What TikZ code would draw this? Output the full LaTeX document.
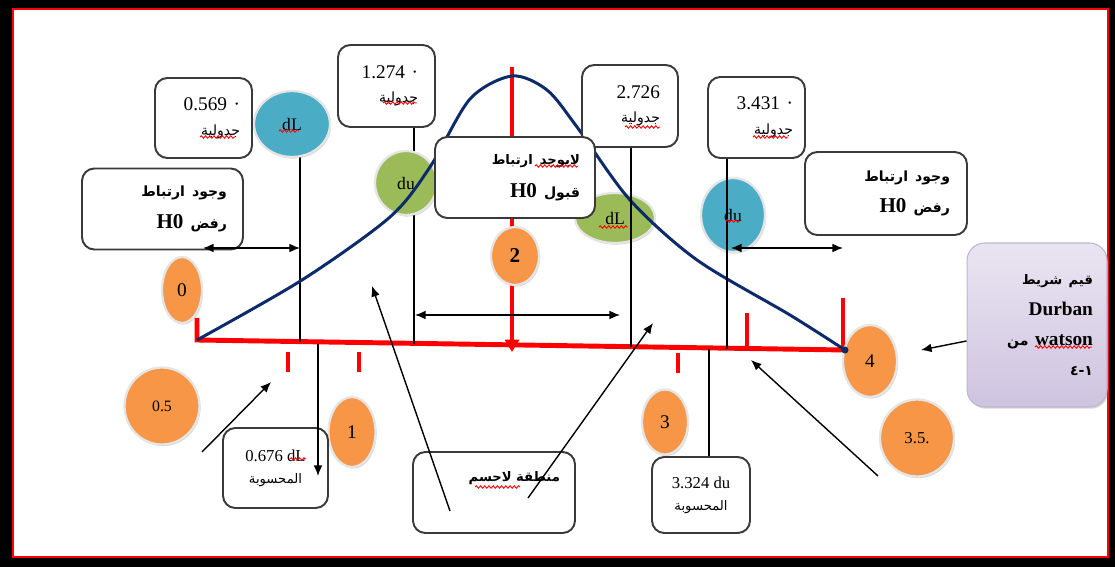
\documentclass[tikz,border=0pt]{standalone}
\usepackage{fontspec}
\setmainfont{Liberation Serif}
\newfontfamily\arabicfont[Script=Arabic]{DejaVu Sans}
\TeXXeTstate=1
\usetikzlibrary{arrows.meta}
\usetikzlibrary{shapes.geometric}
\usetikzlibrary{shadows}
\usetikzlibrary{decorations.pathmorphing}

\definecolor{ballorange}{HTML}{F79646}
\definecolor{ballblue}{HTML}{4BACC6}
\definecolor{ballgreen}{HTML}{9BBB59}
\definecolor{bellblue}{HTML}{0D2B6B}
\definecolor{boxline}{HTML}{3A3A3A}
\definecolor{lilac}{HTML}{CFC4E0}

\newcommand{\rl}[1]{{\arabicfont\beginR #1\endR}}
\newcommand{\lr}[1]{\beginL{\rmfamily #1}\endL}
\newcommand{\fs}[1]{\fontsize{#1}{#1}\selectfont}

\tikzset{
  tagbox/.style={draw=boxline, line width=1.1pt, rounded corners=7pt, fill=white,
    align=right, inner sep=0pt, font=\fs{11}},
  ball/.style={ellipse, inner sep=0pt, draw=white!90!black, line width=1.3pt,
    drop shadow={shadow xshift=0.6pt, shadow yshift=-0.9pt, opacity=0.35},
    font=\fs{10}},
  leader/.style={black, line width=0.7pt},
  dimline/.style={black, line width=0.8pt, {Latex[length=6pt,width=5pt]}-{Latex[length=6pt,width=5pt]}},
  pointer/.style={black, line width=0.8pt, -{Latex[length=6pt,width=5pt]}},
  spell/.style={red, line width=0.5pt, decorate, decoration={snake, amplitude=0.7pt, segment length=2.4pt}}
}

\begin{document}
\begin{tikzpicture}[x=0.02cm, y=-0.02cm]
\useasboundingbox (0,0) rectangle (1115,567);
% frame
\fill[black] (0,0) rectangle (1115,567);
\fill[white] (12,8) rectangle (1109,558);
\draw[red, line width=0.9pt] (13,9) rectangle (1108,557);

\coordinate (a0) at (197,340);
\coordinate (a4) at (845,350);
\coordinate (xdl) at (300,342);
\coordinate (xdu) at (414,344);
\coordinate (xdl2) at (631,347);
\coordinate (xdu2) at (727,349);
\coordinate (tdl) at (300,150);
\coordinate (tdu) at (414,127);
\coordinate (tdl2) at (631,147);
\coordinate (tdu2) at (727,158);

% red axis
\draw[red, line width=2.8pt] (197,318) -- (a0) -- (a4);
\foreach \x/\y in {288/352, 359/352, 678/353}
  \draw[red, line width=2pt] (\x,\y) -- ++(0,20);
\draw[red, line width=2pt] (747,313) -- (747,348);
\draw[red, line width=2pt] (843,298) -- (843,349);
\draw[red, line width=2.2pt, -{Triangle[length=7pt,width=8pt]}] (512,67) -- (512,352);

\draw[leader] (tdl) -- (xdl);
\draw[leader] (tdu) -- (xdu);

% circles
\node[ball, fill=ballblue, minimum width=1.52cm, minimum height=1.32cm] (dlA) at (292,124) {dL};
\node[ball, fill=ballgreen, minimum width=1.24cm, minimum height=1.28cm] (duA) at (406,183) {du};
\node[ball, fill=ballgreen, minimum width=1.6cm, minimum height=1.0cm] (dlB) at (615,218) {dL};
\node[ball, fill=ballblue, minimum width=1.28cm, minimum height=1.48cm] (duB) at (733,215) {du};
\node[ball, fill=ballorange, minimum width=0.8cm, minimum height=1.32cm, font=\fs{11}] (o0) at (182,290) {0};
\node[ball, fill=ballorange, minimum width=1.5cm, minimum height=1.54cm, font=\fs{9}] (o05) at (162,406) {0.5};
\node[ball, fill=ballorange, minimum width=0.94cm, minimum height=1.4cm, font=\fs{11}] (o1) at (352,432) {1};
\node[ball, fill=ballorange, minimum width=0.96cm, minimum height=1.16cm, font=\bfseries\fs{12}] (o2) at (515,256) {2};
\node[ball, fill=ballorange, minimum width=0.92cm, minimum height=1.3cm, font=\fs{11}] (o3) at (665,422) {3};
\node[ball, fill=ballorange, minimum width=1.08cm, minimum height=1.44cm, font=\fs{11}] (o4) at (870,361) {4};
\node[ball, fill=ballorange, minimum width=1.48cm, minimum height=1.54cm, font=\fs{9.5}] (o35) at (917,438) {3.5.};

% bell curve
\draw[bellblue, line width=1.7pt] plot[smooth, tension=0.5] coordinates {
  (197,340) (302,280) (390,217) (430,167) (470,99) (512,76)
  (547,90) (577,127) (630,200) (697,260) (790,315) (845,350)};
\fill[bellblue] (a4) circle (2pt);

\draw[leader] (tdl2) -- (xdl2);
\draw[leader] (tdu2) -- (xdu2);

% boxes
\node[tagbox, minimum width=1.94cm, minimum height=1.6cm, text width=1.46cm] (b569) at (203.5,118)
  {0.569 ·\\[3pt]\rl{\fs{8}جدولية}};
\node[tagbox, minimum width=1.94cm, minimum height=1.64cm, text width=1.26cm] (b1274) at (386.5,86)
  {1.274 ·\\[3pt]\rl{\fs{8}جدولية}};
\node[tagbox, minimum width=1.92cm, minimum height=1.64cm, text width=1.2cm] (b2726) at (630,106)
  {2.726\\[3pt]\rl{\fs{8}جدولية}};
\node[tagbox, minimum width=1.94cm, minimum height=1.62cm, text width=1.46cm] (b3431) at (756.5,117.5)
  {3.431 ·\\[3pt]\rl{\fs{8}جدولية}};
\node[tagbox, minimum width=3.22cm, minimum height=1.62cm, text width=2.58cm, font=\bfseries\fs{12}] (hL) at (162.5,209)
  {\rl{\fs{8}وجود ارتباط}\\[6pt]\rl{\fs{8}رفض \lr{\fs{12}H0}}};
\node[tagbox, minimum width=3.2cm, minimum height=1.62cm, text width=2.6cm, font=\bfseries\fs{12}] (hM) at (515,177.5)
  {\rl{\fs{7.5}لايوجد ارتباط}\\[7pt]\rl{\fs{8}قبول \lr{\fs{12}H0}}};
\node[tagbox, minimum width=3.24cm, minimum height=1.66cm, text width=2.56cm, font=\bfseries\fs{12}] (hR) at (886,193.5)
  {\rl{\fs{8}وجود ارتباط}\\[6pt]\rl{\fs{8}رفض \lr{\fs{12}H0}}};
\node[tagbox, draw=lilac!80!gray, line width=0.6pt, rounded corners=10pt, top color=lilac!45!white, bottom color=lilac,
  drop shadow={shadow xshift=0.8pt, shadow yshift=-1pt, opacity=0.3},
  minimum width=2.8cm, minimum height=3.28cm, text width=2.24cm, font=\bfseries\fs{11}] (durbin) at (1037,325)
  {\rl{\fs{7.5}قيم شريط}\\[7pt]Durban\\[6pt]\rl{\lr{watson} \fs{8}من}\\[6pt]\rl{\fs{8}١-٤}};
\node[tagbox, minimum width=2.1cm, minimum height=1.6cm, align=center, font=\fs{9.5}] (b676) at (275.5,468)
  {0.676 dL\\[3pt]\rl{\fs{7.5}المحسوبة}};
\node[tagbox, minimum width=3.24cm, minimum height=1.62cm, text width=2.64cm, font=\bfseries\fs{7.5}] (zone) at (494,492.5)
  {\rl{منطقة لاحسم}\\[0.36cm]\mbox{}};
\node[tagbox, minimum width=1.96cm, minimum height=1.52cm, align=center, font=\fs{9.5}] (b3324) at (701,495)
  {3.324 du\\[3pt]\rl{\fs{7.5}المحسوبة}};

% spell marks
\foreach \a/\b/\y in {200/235/137, 383/417/103, 625/660/127, 753/788/137, 279/299/131,
    599/628/227, 726/740/221, 535/578/166, 1035/1092/347, 475/520/487, 290/306/459}
  \draw[spell] (\a,\y) -- (\b,\y);

% arrows
\coordinate (lh) at (203,248);
\coordinate (mh1) at (415,315);
\coordinate (mh2) at (620,315);
\coordinate (rh1) at (731,248);
\coordinate (rh2) at (843,248);
\coordinate (p05) at (202,452);
\coordinate (q05) at (271,382);
\coordinate (zl1) at (450,511);
\coordinate (zl2) at (372,286);
\coordinate (zr1) at (528,498);
\coordinate (zr2) at (653,323);
\coordinate (p35) at (878,476);
\coordinate (q35) at (751,360);
\coordinate (pd) at (921,350);
\coordinate (ydl) at (318,344);
\coordinate (ydu) at (709,349);
\draw[dimline] (lh) -- (lh -| xdl);
\draw[dimline] (mh1) -- (mh2);
\draw[dimline] (rh1) -- (rh2);
\draw[pointer] (p05) -- (q05);
\draw[pointer] (zl1) -- (zl2);
\draw[pointer] (zr1) -- (zr2);
\draw[pointer] (p35) -- (q35);
\draw[pointer] ([yshift=-0.32cm]durbin.west) -- (pd);
\draw[pointer] (ydl) -- (318,476);
\draw[leader] (ydu) -- (ydu |- b3324.north);
\end{tikzpicture}
\end{document}
